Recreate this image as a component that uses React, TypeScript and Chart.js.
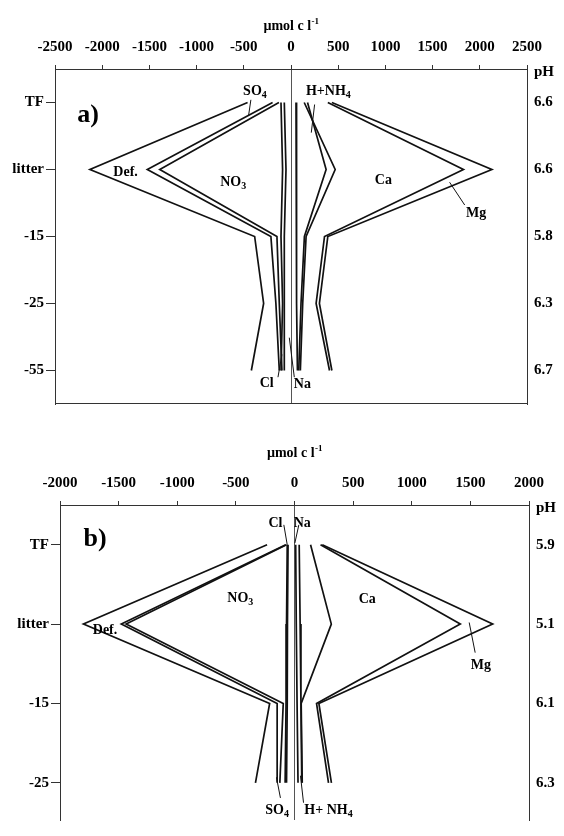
import React, { useEffect, useRef } from 'react';
import { Chart, registerables } from 'chart.js';
Chart.register(...registerables);

const FONT = '"Liberation Serif", "Times New Roman", serif';

// ---------- categories / tick labels ----------
const depthA = ['TF', 'litter', '-15', '-25', '-55'];
const phA = ['6.6', '6.6', '5.8', '6.3', '6.7'];
const xTicksA = [-2500, -2000, -1500, -1000, -500, 0, 500, 1000, 1500, 2000, 2500];

const depthB = ['TF', 'litter', '-15', '-25'];
const phB = ['5.9', '5.1', '6.1', '6.3'];
const xTicksB = [-2000, -1500, -1000, -500, 0, 500, 1000, 1500, 2000];

// ---------- panel a: cumulative ion lines (µmol c l-1) TF, litter, -15, -25, -55 ----------
const aCl = [-71, -53, -71, -71, -71];
const aAn2 = [-106, -89, -106, -89, -106];
const aNO3 = [-128, -1390, -149, -124, -96];
const aSO4 = [-195, -1522, -213, -160, -124];
const aDef = [-460, -2130, -385, -290, -420];
const aNa = [53, 55, 60, 62, 68];
const aHNH4a = [175, 372, 142, 106, 82];
const aHNH4b = [140, 468, 160, 124, 99];
const aCa = [390, 1827, 355, 266, 408];
const aMg = [433, 2128, 390, 301, 433];

// ---------- panel b: TF, litter, -15, -25 ----------
const bCl = [-55, -60, -62, -68];
const bAn2 = [-62, -68, -72, -80];
const bNO3 = [-68, -1436, -96, -125];
const bSO4 = [-75, -1477, -148, -148];
const bDef = [-234, -1800, -212, -333];
const bNa = [10, 15, 22, 30];
const bHNH4a = [40, 48, 55, 62];
const bHNH4b = [137, 314, 57, 66];
const bCa = [222, 1414, 188, 290];
const bMg = [237, 1690, 208, 315];

type Ann = { t: string; x: number; y: number; size?: number };
type Leader = [number, number, number, number];

type Spec = {
  lines: number[][];
  depth: string[];
  ph: string[];
  xTicks: number[];
  xMin: number;
  xMax: number;
  yMin: number;
  yMax: number;
  top: number;
  left: number;
  right: number;
  padBottom: number;
  bottomBorder: boolean;
  titleY: number;
  labels: Ann[];
  leaders: Leader[];
};

const specA: Spec = {
  lines: [aCl, aAn2, aNO3, aSO4, aDef, aNa, aHNH4a, aHNH4b, aCa, aMg],
  depth: depthA,
  ph: phA,
  xTicks: xTicksA,
  xMin: -2500,
  xMax: 2500,
  yMin: -0.5,
  yMax: 4.5,
  top: 69,
  left: 55,
  right: 37,
  padBottom: 14,
  bottomBorder: true,
  titleY: 25,
  labels: [
    { t: 'a)', x: -2149, y: 0.15, size: 26 },
    { t: 'SO_4', x: -382, y: -0.19 },
    { t: 'H+NH_4', x: 396, y: -0.19 },
    { t: 'Def.', x: -1752, y: 1.02 },
    { t: 'NO_3', x: -612, y: 1.17 },
    { t: 'Ca', x: 979, y: 1.14 },
    { t: 'Mg', x: 1961, y: 1.63 },
    { t: 'Cl', x: -258, y: 4.18 },
    { t: 'Na', x: 120, y: 4.19 },
  ],
  leaders: [
    [-425, -0.04, -450, 0.2],
    [250, 0.03, 215, 0.45],
    [1840, 1.53, 1680, 1.19],
    [-138, 4.1, -96, 3.76],
    [35, 4.1, -18, 3.51],
  ],
};

const specB: Spec = {
  lines: [bCl, bAn2, bNO3, bSO4, bDef, bNa, bHNH4a, bHNH4b, bCa, bMg],
  depth: depthB,
  ph: phB,
  xTicks: xTicksB,
  xMin: -2000,
  xMax: 2000,
  yMin: -0.5,
  yMax: 3.468,
  top: 85,
  left: 60,
  right: 35,
  padBottom: 0,
  bottomBorder: false,
  titleY: 32,
  labels: [
    { t: 'b)', x: -1701, y: -0.1, size: 26 },
    { t: 'Cl', x: -162, y: -0.28 },
    { t: 'Na', x: 66, y: -0.28 },
    { t: 'NO_3', x: -462, y: 0.66 },
    { t: 'Def.', x: -1616, y: 1.06 },
    { t: 'Ca', x: 621, y: 0.67 },
    { t: 'Mg', x: 1590, y: 1.51 },
    { t: 'SO_4', x: -148, y: 3.33 },
    { t: 'H+ NH_4', x: 290, y: 3.33 },
  ],
  leaders: [
    [-91, -0.25, -62, 0.0],
    [37, -0.25, 3, -0.02],
    [1490, 0.98, 1541, 1.36],
    [-120, 3.19, -154, 2.93],
    [77, 3.25, 51, 2.91],
  ],
};

function drawRich(ctx: CanvasRenderingContext2D, text: string, cx: number, cy: number, size: number) {
  const segs: { t: string; sub: boolean }[] = [];
  for (let i = 0; i < text.length; i++) {
    if (text[i] === '_' && i + 1 < text.length) {
      segs.push({ t: text[i + 1], sub: true });
      i++;
    } else {
      const last = segs[segs.length - 1];
      if (last && !last.sub) last.t += text[i];
      else segs.push({ t: text[i], sub: false });
    }
  }
  const subSize = Math.round(size * 0.68);
  let w = 0;
  for (const s of segs) {
    ctx.font = `bold ${s.sub ? subSize : size}px ${FONT}`;
    w += ctx.measureText(s.t).width;
  }
  let x = cx - w / 2;
  ctx.textAlign = 'left';
  ctx.textBaseline = 'alphabetic';
  const base = cy + size * 0.35;
  for (const s of segs) {
    ctx.font = `bold ${s.sub ? subSize : size}px ${FONT}`;
    ctx.fillText(s.t, x, s.sub ? base + size * 0.22 : base);
    x += ctx.measureText(s.t).width;
  }
}

function makePlugin(spec: Spec) {
  return {
    id: 'annot',
    afterDraw(chart: any) {
      const ctx: CanvasRenderingContext2D = chart.ctx;
      const xs = chart.scales.x;
      const ys = chart.scales.y;
      const ca = chart.chartArea;
      ctx.save();
      ctx.strokeStyle = '#333';
      ctx.lineWidth = 1;
      if (spec.bottomBorder) {
        ctx.beginPath();
        ctx.moveTo(ca.left, Math.round(ca.bottom) - 0.5);
        ctx.lineTo(ca.right, Math.round(ca.bottom) - 0.5);
        ctx.stroke();
      }
      // leaders
      ctx.strokeStyle = '#111';
      ctx.lineWidth = 1;
      for (const [x1, y1, x2, y2] of spec.leaders) {
        ctx.beginPath();
        ctx.moveTo(xs.getPixelForValue(x1), ys.getPixelForValue(y1));
        ctx.lineTo(xs.getPixelForValue(x2), ys.getPixelForValue(y2));
        ctx.stroke();
      }
      ctx.fillStyle = '#000';
      for (const a of spec.labels) {
        drawRich(ctx, a.t, xs.getPixelForValue(a.x), ys.getPixelForValue(a.y), a.size || 14);
      }
      // axis title µmol c l-1
      const cx = xs.getPixelForValue(0);
      ctx.font = `bold 14px ${FONT}`;
      const main = 'µmol c l';
      const mw = ctx.measureText(main).width;
      ctx.font = `bold 9px ${FONT}`;
      const sw = ctx.measureText('-1').width;
      let sx = cx - (mw + sw) / 2;
      ctx.textAlign = 'left';
      ctx.textBaseline = 'alphabetic';
      ctx.font = `bold 14px ${FONT}`;
      ctx.fillText(main, sx, spec.titleY + 5);
      ctx.font = `bold 9px ${FONT}`;
      ctx.fillText('-1', sx + mw + 0.5, spec.titleY - 1);
      // pH label
      ctx.font = `bold 15px ${FONT}`;
      ctx.textBaseline = 'middle';
      ctx.fillText('pH', ca.right + 7, ca.top + 3);
      ctx.restore();
    },
  };
}

function buildChart(canvas: HTMLCanvasElement, spec: Spec) {
  const datasets = spec.lines.map((vals) => ({
    data: vals.map((v, i) => ({ x: v, y: i })),
    borderColor: '#111',
    borderWidth: 1.7,
    pointRadius: 0,
    fill: false,
    tension: 0,
  }));
  const tickFont = { family: FONT, size: 15, weight: 'bold' as const };
  return new Chart(canvas, {
    type: 'line',
    data: { datasets },
    options: {
      animation: false,
      responsive: false,
      events: [],
      layout: { padding: { left: 0, right: 0, top: 0, bottom: spec.padBottom } },
      plugins: { legend: { display: false }, tooltip: { enabled: false } },
      scales: {
        x: {
          type: 'linear',
          position: 'top',
          min: spec.xMin,
          max: spec.xMax,
          afterBuildTicks: (s: any) => {
            s.ticks = spec.xTicks.map((v) => ({ value: v }));
          },
          afterFit: (s: any) => {
            s.height = spec.top;
          },
          ticks: {
            callback: (v: any) => String(v),
            font: tickFont,
            color: '#000',
            padding: 9,
            maxRotation: 0,
            autoSkip: false,
          },
          grid: {
            color: (c: any) => (c.tick && c.tick.value === 0 ? '#555' : 'rgba(0,0,0,0)'),
            tickColor: '#333',
            tickLength: 4,
            lineWidth: 1,
          },
          border: { display: true, color: '#333', width: 1 },
        },
        y: {
          type: 'linear',
          position: 'left',
          reverse: true,
          min: spec.yMin,
          max: spec.yMax,
          afterBuildTicks: (s: any) => {
            s.ticks = spec.depth.map((_, i) => ({ value: i }));
          },
          afterFit: (s: any) => {
            s.width = spec.left;
          },
          ticks: {
            callback: (v: any) => spec.depth[v] ?? '',
            font: tickFont,
            color: '#000',
            padding: 2,
            autoSkip: false,
          },
          grid: { drawOnChartArea: false, tickLength: 9, tickColor: '#333' },
          border: { display: true, color: '#333', width: 1 },
        },
        y2: {
          type: 'linear',
          position: 'right',
          reverse: true,
          min: spec.yMin,
          max: spec.yMax,
          afterBuildTicks: (s: any) => {
            s.ticks = spec.ph.map((_, i) => ({ value: i }));
          },
          afterFit: (s: any) => {
            s.width = spec.right;
          },
          ticks: {
            callback: (v: any) => spec.ph[v] ?? '',
            font: tickFont,
            color: '#000',
            padding: 7,
            autoSkip: false,
          },
          grid: { drawOnChartArea: false, drawTicks: false },
          border: { display: true, color: '#333', width: 1 },
        },
      },
    } as any,
    plugins: [makePlugin(spec)],
  });
}

export default function App() {
  const refA = useRef<HTMLCanvasElement>(null);
  const refB = useRef<HTMLCanvasElement>(null);
  useEffect(() => {
    const ca = buildChart(refA.current!, specA);
    const cb = buildChart(refB.current!, specB);
    return () => {
      ca.destroy();
      cb.destroy();
    };
  }, []);
  return (
    <div style={{ position: 'absolute', left: 0, top: 0, width: 564, height: 836, background: '#fff' }}>
      <canvas ref={refA} width={564} height={420} style={{ position: 'absolute', left: 0, top: 0 }} />
      <canvas ref={refB} width={564} height={416} style={{ position: 'absolute', left: 0, top: 420 }} />
    </div>
  );
}
